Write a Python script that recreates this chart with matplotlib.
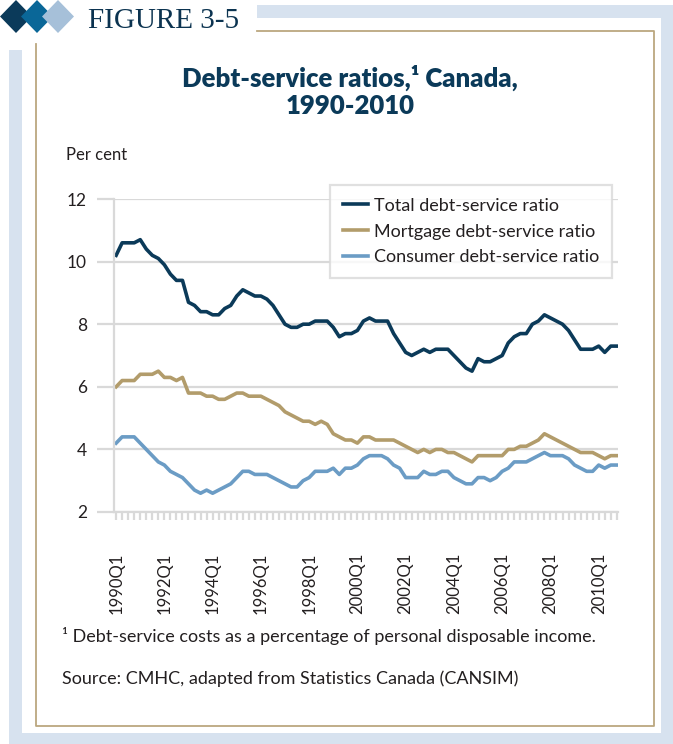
import matplotlib.pyplot as plt
from matplotlib.patches import Rectangle, Polygon

# quarterly values, 1990Q1 .. 2010Q4 (per cent)
total = [10.2, 10.6, 10.6, 10.6, 10.7, 10.4, 10.2, 10.1, 9.9, 9.6, 9.4, 9.4,
         8.7, 8.6, 8.4, 8.4, 8.3, 8.3, 8.5, 8.6, 8.9, 9.1, 9.0, 8.9,
         8.9, 8.8, 8.6, 8.3, 8.0, 7.9, 7.9, 8.0, 8.0, 8.1, 8.1, 8.1,
         7.9, 7.6, 7.7, 7.7, 7.8, 8.1, 8.2, 8.1, 8.1, 8.1, 7.7, 7.4,
         7.1, 7.0, 7.1, 7.2, 7.1, 7.2, 7.2, 7.2, 7.0, 6.8, 6.6, 6.5,
         6.9, 6.8, 6.8, 6.9, 7.0, 7.4, 7.6, 7.7, 7.7, 8.0, 8.1, 8.3,
         8.2, 8.1, 8.0, 7.8, 7.5, 7.2, 7.2, 7.2, 7.3, 7.1, 7.3, 7.3]
mortgage = [6.0, 6.2, 6.2, 6.2, 6.4, 6.4, 6.4, 6.5, 6.3, 6.3, 6.2, 6.3,
            5.8, 5.8, 5.8, 5.7, 5.7, 5.6, 5.6, 5.7, 5.8, 5.8, 5.7, 5.7,
            5.7, 5.6, 5.5, 5.4, 5.2, 5.1, 5.0, 4.9, 4.9, 4.8, 4.9, 4.8,
            4.5, 4.4, 4.3, 4.3, 4.2, 4.4, 4.4, 4.3, 4.3, 4.3, 4.3, 4.2,
            4.1, 4.0, 3.9, 4.0, 3.9, 4.0, 4.0, 3.9, 3.9, 3.8, 3.7, 3.6,
            3.8, 3.8, 3.8, 3.8, 3.8, 4.0, 4.0, 4.1, 4.1, 4.2, 4.3, 4.5,
            4.4, 4.3, 4.2, 4.1, 4.0, 3.9, 3.9, 3.9, 3.8, 3.7, 3.8, 3.8]
consumer = [4.2, 4.4, 4.4, 4.4, 4.2, 4.0, 3.8, 3.6, 3.5, 3.3, 3.2, 3.1,
            2.9, 2.7, 2.6, 2.7, 2.6, 2.7, 2.8, 2.9, 3.1, 3.3, 3.3, 3.2,
            3.2, 3.2, 3.1, 3.0, 2.9, 2.8, 2.8, 3.0, 3.1, 3.3, 3.3, 3.3,
            3.4, 3.2, 3.4, 3.4, 3.5, 3.7, 3.8, 3.8, 3.8, 3.7, 3.5, 3.4,
            3.1, 3.1, 3.1, 3.3, 3.2, 3.2, 3.3, 3.3, 3.1, 3.0, 2.9, 2.9,
            3.1, 3.1, 3.0, 3.1, 3.3, 3.4, 3.6, 3.6, 3.6, 3.7, 3.8, 3.9,
            3.8, 3.8, 3.8, 3.7, 3.5, 3.4, 3.3, 3.3, 3.5, 3.4, 3.5, 3.5]
years = list(range(1990, 2011))
quarters = ['%dQ%d' % (y, q) for y in years for q in (1, 2, 3, 4)]
labels = ['Total debt-service ratio', 'Mortgage debt-service ratio',
          'Consumer debt-service ratio']

navy = '#0b3a59'
tan = '#b29c6b'
lblue = '#6b9cc5'
grid = '#d9d9d9'
txt = '#231f20'
frame = '#d7e2ef'
gold = '#bba77f'

fig = plt.figure(figsize=(6.73, 7.44), dpi=100)

# page decoration in pixel coordinates
bg = fig.add_axes([0, 0, 1, 1], zorder=0)
bg.set_xlim(0, 673)
bg.set_ylim(744, 0)
bg.axis('off')
for (x0, y0, w, h) in [(257, 5, 416, 13), (661, 5, 12, 739),
                       (9, 733, 664, 11), (9, 50, 12.5, 694)]:
    bg.add_patch(Rectangle((x0, y0), w, h, color=frame, lw=0))
bg.plot([35.6, 35.6, 654, 654, 257], [44, 726, 726, 31, 31], color=gold, lw=1.3)
for cx, col in [(16, '#0b3a5a'), (37, '#0a6798'), (58, '#a6c0d9')]:
    bg.add_patch(Polygon([(cx - 16, 16.5), (cx, 0), (cx + 16, 16.5), (cx, 33)],
                         closed=True, color=col, lw=0))
bg.text(88, 28, 'FIGURE 3-5', family='Liberation Serif', fontsize=21,
        color='#0b3350', ha='left', va='baseline')

fig.text(0.52, 1 - 78 / 744, 'Debt-service ratios,\u00b9 Canada,',
         family='Lato', weight='heavy', fontsize=18.5, color=navy,
         ha='center', va='center')
fig.text(0.52, 1 - 106 / 744, '1990-2010', family='Lato', weight='heavy',
         fontsize=18.5, color=navy, ha='center', va='center')
fig.text(66 / 673, 1 - 155 / 744, 'Per cent', family='Lato', fontsize=12,
         color=txt, ha='left', va='center')

ax = fig.add_axes([114 / 673, 1 - 512 / 744, (618 - 114) / 673, (512 - 199) / 744],
                  zorder=1)
ax.patch.set_alpha(0)
x = list(range(len(quarters)))
ax.plot(x, total, color=navy, lw=2.6, label=labels[0], solid_joinstyle='round')
ax.plot(x, mortgage, color=tan, lw=2.6, label=labels[1], solid_joinstyle='round')
ax.plot(x, consumer, color=lblue, lw=2.6, label=labels[2], solid_joinstyle='round')

ax.set_ylim(2, 12)
ax.set_yticks([2, 4, 6, 8, 10, 12])
ax.set_xlim(-0.35, 83.2)
ax.grid(axis='y', color=grid, lw=1.6)
ax.set_axisbelow(True)
for s in ['top', 'right']:
    ax.spines[s].set_visible(False)
ax.spines['left'].set_color(grid)
ax.spines['left'].set_linewidth(1.6)
ax.spines['bottom'].set_color(grid)
ax.spines['bottom'].set_linewidth(1.6)
ax.tick_params(axis='y', length=12.5, width=1.6, color=grid, pad=7,
               labelsize=12.5, labelcolor=txt)
for t in ax.get_yticklabels():
    t.set_family('Lato')

ax.set_xticks([i for i, q in enumerate(quarters) if q.endswith('Q1') and int(q[:4]) % 2 == 0])
ax.set_xticklabels([q for q in quarters if q.endswith('Q1') and int(q[:4]) % 2 == 0],
                   rotation=90, family='Lato', fontsize=12, color=txt)
ax.set_xticks(x, minor=True)
ax.tick_params(axis='x', which='both', length=6, width=1.6, color=grid, pad=23)

leg = ax.legend(loc='upper left', bbox_to_anchor=(330 / 673, 1 - 185 / 744),
                bbox_transform=fig.transFigure, frameon=True, fancybox=False,
                prop={'family': 'Lato', 'size': 13}, handlelength=1.4,
                handletextpad=0.34, labelspacing=0.55, borderpad=0.7,
                borderaxespad=0)
leg.get_frame().set_edgecolor(grid)
leg.get_frame().set_linewidth(1.6)
for t in leg.get_texts():
    t.set_color(txt)

fig.text(62 / 673, 1 - 636 / 744,
         '\u00b9 Debt-service costs as a percentage of personal disposable income.',
         family='Lato', fontsize=13, color=txt, ha='left', va='center')
fig.text(62 / 673, 1 - 679 / 744,
         'Source: CMHC, adapted from Statistics Canada (CANSIM)',
         family='Lato', fontsize=13, color=txt, ha='left', va='center')

plt.savefig('out.png', dpi=100)
